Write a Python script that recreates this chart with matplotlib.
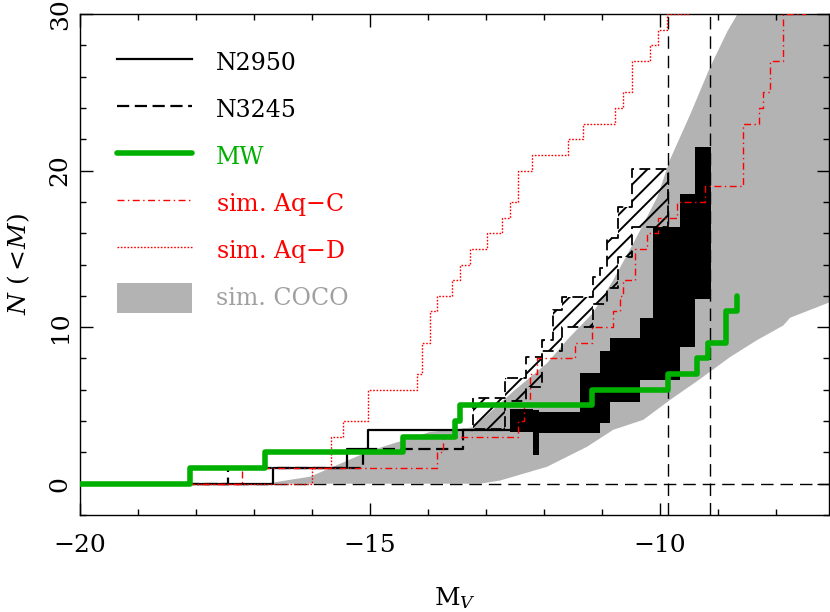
import matplotlib
matplotlib.use("Agg")
import matplotlib.pyplot as plt
from matplotlib.patches import Patch
from matplotlib.lines import Line2D
from matplotlib.ticker import MultipleLocator

plt.rcParams['font.family'] = ['DejaVu Serif']
plt.rcParams['mathtext.fontset'] = 'dejavuserif'
plt.rcParams['hatch.linewidth'] = 1.4

# sim. COCO band (upper and lower envelope)
coco_up_m = [-16.80, -16.03, -15.00, -13.97, -13.22, -12.53, -11.95, -11.60, -11.16,
             -10.81, -10.47, -10.05, -9.83, -9.48, -9.14, -8.84, -8.62, -7.0]
coco_up_n = [0.0, 0.45, 2.1, 3.3, 3.6, 5.9, 7.7, 9.2, 10.9,
             13.0, 15.3, 18.3, 20.7, 23.6, 26.6, 28.9, 30.3, 30.3]
coco_lo_m = [-16.80, -13.10, -12.76, -11.95, -11.26, -10.81, -10.29, -9.83, -9.36,
             -8.79, -8.33, -7.88, -7.76, -7.0]
coco_lo_n = [0.0, 0.0, 0.2, 1.08, 2.36, 3.44, 4.08, 5.35, 6.56,
             8.1, 9.17, 10.1, 10.6, 11.7]

# N2950: single line at the bright end, then a range (black)
n2950_m = [-20.0, -16.67, -15.40, -15.03, -12.59]
n2950_n = [0.0, 1.0, 2.2, 3.4, 3.4]
n2950_band_m = [-12.59, -12.19, -12.09, -11.38, -11.03, -10.86, -10.34, -10.12, -9.66, -9.40, -9.12]
n2950_band_hi = [4.8, 4.7, 4.6, 7.1, 8.5, 9.3, 10.6, 16.4, 18.5, 21.5]
n2950_band_lo = [3.3, 1.85, 3.25, 3.25, 3.9, 5.2, 6.6, 6.6, 8.7, 11.8]

# N3245: single line, then a range (hatched)
n3245_m = [-20.0, -17.45, -15.12, -13.40, -13.22]
n3245_n = [0.0, 1.0, 2.2, 3.4, 3.4]
n3245_band_m = [-13.22, -12.67, -12.31, -12.03, -11.84, -11.69, -11.16, -11.03, -10.91, -10.72, -10.48, -9.86]
n3245_band_hi = [5.5, 6.75, 8.1, 9.2, 11.1, 11.9, 13.2, 13.8, 15.7, 17.7, 20.1]
n3245_band_lo = [3.5, 5.3, 6.2, 8.5, 8.5, 10.0, 11.5, 11.5, 12.5, 14.5, 16.4]

# Milky Way
mw_m = [-20.0, -18.10, -16.81, -14.43, -13.53, -13.45, -11.17, -9.86, -9.36, -9.17, -8.86, -8.67]
mw_n = [0, 1, 2, 3, 4, 5, 6, 7, 8, 9, 11, 12]

# Aquarius C
aqc_m = [-20.0, -17.21, -13.84, -13.74, -12.45, -12.34, -12.24, -12.12, -11.47, -11.17,
         -10.81, -10.69, -10.64, -10.43, -10.22, -10.03, -9.71, -9.22, -8.57, -8.29,
         -8.22, -8.10, -7.88, -7.5, -7.0]
aqc_n = [0, 1, 2, 3, 4, 5, 7, 8, 9, 10,
         11, 12, 13, 15, 16, 17, 18, 19, 23, 24,
         25, 27, 30, 31, 31]

# Aquarius D
aqd_m = [-20.0, -16.00, -15.67, -15.47, -15.03, -14.19, -14.10, -13.97, -13.84, -13.59,
         -13.45, -13.28, -12.98, -12.72, -12.59, -12.45, -12.21, -11.59, -11.33, -10.78,
         -10.64, -10.48, -10.17, -10.03, -9.88, -9.52, -9.0]
aqd_n = [0, 1, 3, 4, 6, 7, 9, 11, 12, 13,
         14, 15, 16, 17, 18, 20, 21, 22, 23, 24,
         25, 27, 28, 29, 30, 31, 31]

# completeness limits
mlim = [-9.86, -9.14]

grey = '#b3b3b3'
green = '#00b000'

fig = plt.figure(figsize=(8.3, 6.12), dpi=100)
ax = fig.add_axes([80/830, 97/612, 749/830, 501/612])

ax.fill(coco_up_m + coco_lo_m[::-1], coco_up_n + coco_lo_n[::-1],
        color=grey, lw=0, zorder=1)

ax.fill_between(n2950_band_m, n2950_band_lo + n2950_band_lo[-1:],
                n2950_band_hi + n2950_band_hi[-1:], step='post',
                color='k', lw=0, zorder=2)
ax.fill_between(n3245_band_m, n3245_band_lo + n3245_band_lo[-1:],
                n3245_band_hi + n3245_band_hi[-1:], step='post',
                facecolor='none', edgecolor='k', hatch='//',
                lw=1.3, linestyle=(0, (6, 3)), zorder=2.5)

ax.axhline(0, color='k', lw=1.0, dashes=(9, 5), zorder=2)
for m in mlim:
    ax.axvline(m, color='k', lw=1.0, dashes=(9, 5), zorder=2)

ax.plot(n2950_m, n2950_n, drawstyle='steps-post', color='k', lw=1.6, zorder=3)
ax.plot(n3245_m, n3245_n, drawstyle='steps-post', color='k', lw=1.6,
        dashes=(5.5, 2.5), zorder=3)
ax.plot(aqc_m, aqc_n, drawstyle='steps-post', color='red', lw=1.0,
        dashes=(5, 2.5, 1, 2.5), zorder=3.5)
ax.plot(aqd_m, aqd_n, drawstyle='steps-post', color='red', lw=1.0,
        dashes=(1.2, 1.2), zorder=3.5)
ax.plot(mw_m, mw_n, drawstyle='steps-post', color=green, lw=4.0,
        solid_capstyle='round', zorder=4)

ax.set_xlim(-20, -7.09)
ax.set_ylim(-2, 30)
ax.xaxis.set_major_locator(MultipleLocator(5))
ax.xaxis.set_minor_locator(MultipleLocator(1))
ax.yaxis.set_major_locator(MultipleLocator(10))
ax.yaxis.set_minor_locator(MultipleLocator(2))
ax.tick_params(which='both', direction='in', top=True, right=True, width=1.0)
ax.tick_params(which='major', length=9, labelsize=18)
ax.tick_params(which='minor', length=4.5)
ax.tick_params(axis='x', pad=14)
ax.tick_params(axis='y', pad=6, labelrotation=90)
for lab in ax.get_yticklabels():
    lab.set_va('center')
for s in ax.spines.values():
    s.set_linewidth(1.0)

ax.set_xlabel(r'M$_V$', fontsize=18, labelpad=20)
ax.set_ylabel(r'$N\ (<\!M)$', fontsize=18, labelpad=12)

handles = [
    Line2D([], [], color='k', lw=1.6),
    Line2D([], [], color='k', lw=1.6, dashes=(5.5, 2.5)),
    Line2D([], [], color=green, lw=4.0, solid_capstyle='round'),
    Line2D([], [], color='red', lw=1.0, dashes=(5, 2.5, 1, 2.5)),
    Line2D([], [], color='red', lw=1.0, dashes=(1.2, 1.2)),
    Patch(facecolor=grey, edgecolor='none'),
]
labels = ['N2950', 'N3245', 'MW', 'sim. Aq$-$C', 'sim. Aq$-$D', 'sim. COCO']
colors = ['k', 'k', green, 'red', 'red', '#a0a0a0']
leg = ax.legend(handles, labels, loc='upper left', bbox_to_anchor=(0.049, 0.934),
                frameon=False, fontsize=17, handlelength=3.2, handleheight=1.6,
                labelspacing=0.71, handletextpad=1.0, borderpad=0, borderaxespad=0)
for t, c in zip(leg.get_texts(), colors):
    t.set_color(c)

fig.savefig('out.png', dpi=100)
